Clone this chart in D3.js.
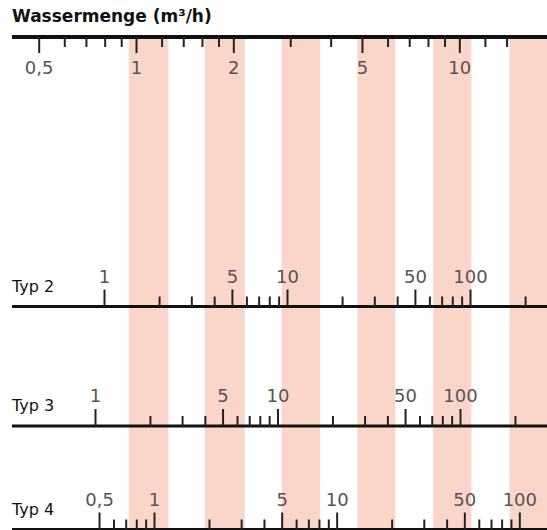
<!DOCTYPE html>
<html>
<head>
<meta charset="utf-8">
<script src="https://cdn.jsdelivr.net/npm/d3@7"></script>
<style>
  body { margin: 0; background: #fff; }
  svg { display: block; font-family: "DejaVu Sans", Verdana, sans-serif; }
  .tick line { stroke: #222; stroke-width: 2; }
  .tick text { fill: #555; font-size: 18px; }
</style>
</head>
<body>
<script>
var w = 547;
var h = 530;

// Wassermenge (m3/h), top axis
var flowMajor = [0.5, 1, 2, 5, 10];
var flowLabels = ["0,5", "1", "2", "5", "10"];
var flowMinor = [0.6, 0.7, 0.8, 0.9, 1.2, 1.4, 1.6, 1.8, 3, 4, 6, 7, 8, 9, 12, 14];

// pink bands, edges in m3/h
var bandStart = [0.95, 1.63, 2.82, 4.84, 8.3, 14.3];
var bandEnd = [1.26, 2.17, 3.71, 6.34, 10.9, 18.7];

// type scales
var typNames = ["Typ 2", "Typ 3", "Typ 4"];
var typ2Major = [1, 5, 10, 50, 100];
var typ2Labels = ["1", "5", "10", "50", "100"];
var typ2Minor = [2, 3, 4, 6, 7, 8, 9, 20, 30, 40, 60, 70, 80, 90, 200];
var typ3Major = [1, 5, 10, 50, 100];
var typ3Labels = ["1", "5", "10", "50", "100"];
var typ3Minor = [2, 3, 4, 6, 7, 8, 9, 20, 30, 40, 60, 70, 80, 90, 200];
var typ4Major = [0.5, 1, 5, 10, 50, 100];
var typ4Labels = ["0,5", "1", "5", "10", "50", "100"];
var typ4Minor = [0.6, 0.7, 0.8, 0.9, 2, 3, 4, 6, 7, 8, 9, 20, 30, 40, 60, 70, 80, 90];

var svg = d3.select("body")
            .append("svg")
            .attr("width", w)
            .attr("height", h);

var xFlow = d3.scaleLog().domain([1, 10]).range([136, 459.3]);

svg.selectAll("rect.band")
    .data(bandStart)
    .enter()
    .append("rect")
    .attr("class", "band")
    .attr("x", function(d) { return xFlow(d); })
    .attr("y", 39)
    .attr("width", function(d, i) { return xFlow(bandEnd[i]) - xFlow(d); })
    .attr("height", h - 39)
    .style("fill", "#fad6ca");

svg.append("text")
    .attr("x", 12)
    .attr("y", 22)
    .style("font-size", "17px")
    .style("font-weight", "bold")
    .style("fill", "#111")
    .text("Wassermenge (m³/h)");

function drawAxis(scale, y, major, labels, minor, down, lineWidth) {
    var make = down ? d3.axisBottom : d3.axisTop;
    svg.append("line")
        .attr("x1", 12).attr("x2", w)
        .attr("y1", y).attr("y2", y)
        .style("stroke", "#111")
        .style("stroke-width", lineWidth);
    var gMinor = svg.append("g")
        .attr("transform", "translate(0," + y + ")")
        .call(make(scale).tickValues(minor).tickSize(10).tickFormat(""));
    var gMajor = svg.append("g")
        .attr("transform", "translate(0," + y + ")")
        .call(make(scale).tickValues(major).tickSize(down ? 16 : 17).tickPadding(down ? 8 : 7)
              .tickFormat(function(d, i) { return labels[i]; }));
    gMinor.select(".domain").remove();
    gMajor.select(".domain").remove();
    gMinor.attr("font-family", null).attr("font-size", null);
    gMajor.attr("font-family", null).attr("font-size", null);
}

drawAxis(xFlow, 37, flowMajor, flowLabels, flowMinor, true, 4);

var typScales = [
    d3.scaleLog().domain([1, 100]).range([104, 470]),
    d3.scaleLog().domain([1, 100]).range([95, 460]),
    d3.scaleLog().domain([1, 100]).range([154, 519.3])
];
var typY = [306.5, 426, 529.5];
var typMajor = [typ2Major, typ3Major, typ4Major];
var typLabels = [typ2Labels, typ3Labels, typ4Labels];
var typMinor = [typ2Minor, typ3Minor, typ4Minor];

typNames.forEach(function(name, i) {
    drawAxis(typScales[i], typY[i], typMajor[i], typLabels[i], typMinor[i], false, 3);
    svg.append("text")
        .attr("x", 12)
        .attr("y", typY[i] - 15)
        .style("font-size", "16px")
        .style("fill", "#111")
        .text(name);
});
</script>
</body>
</html>
